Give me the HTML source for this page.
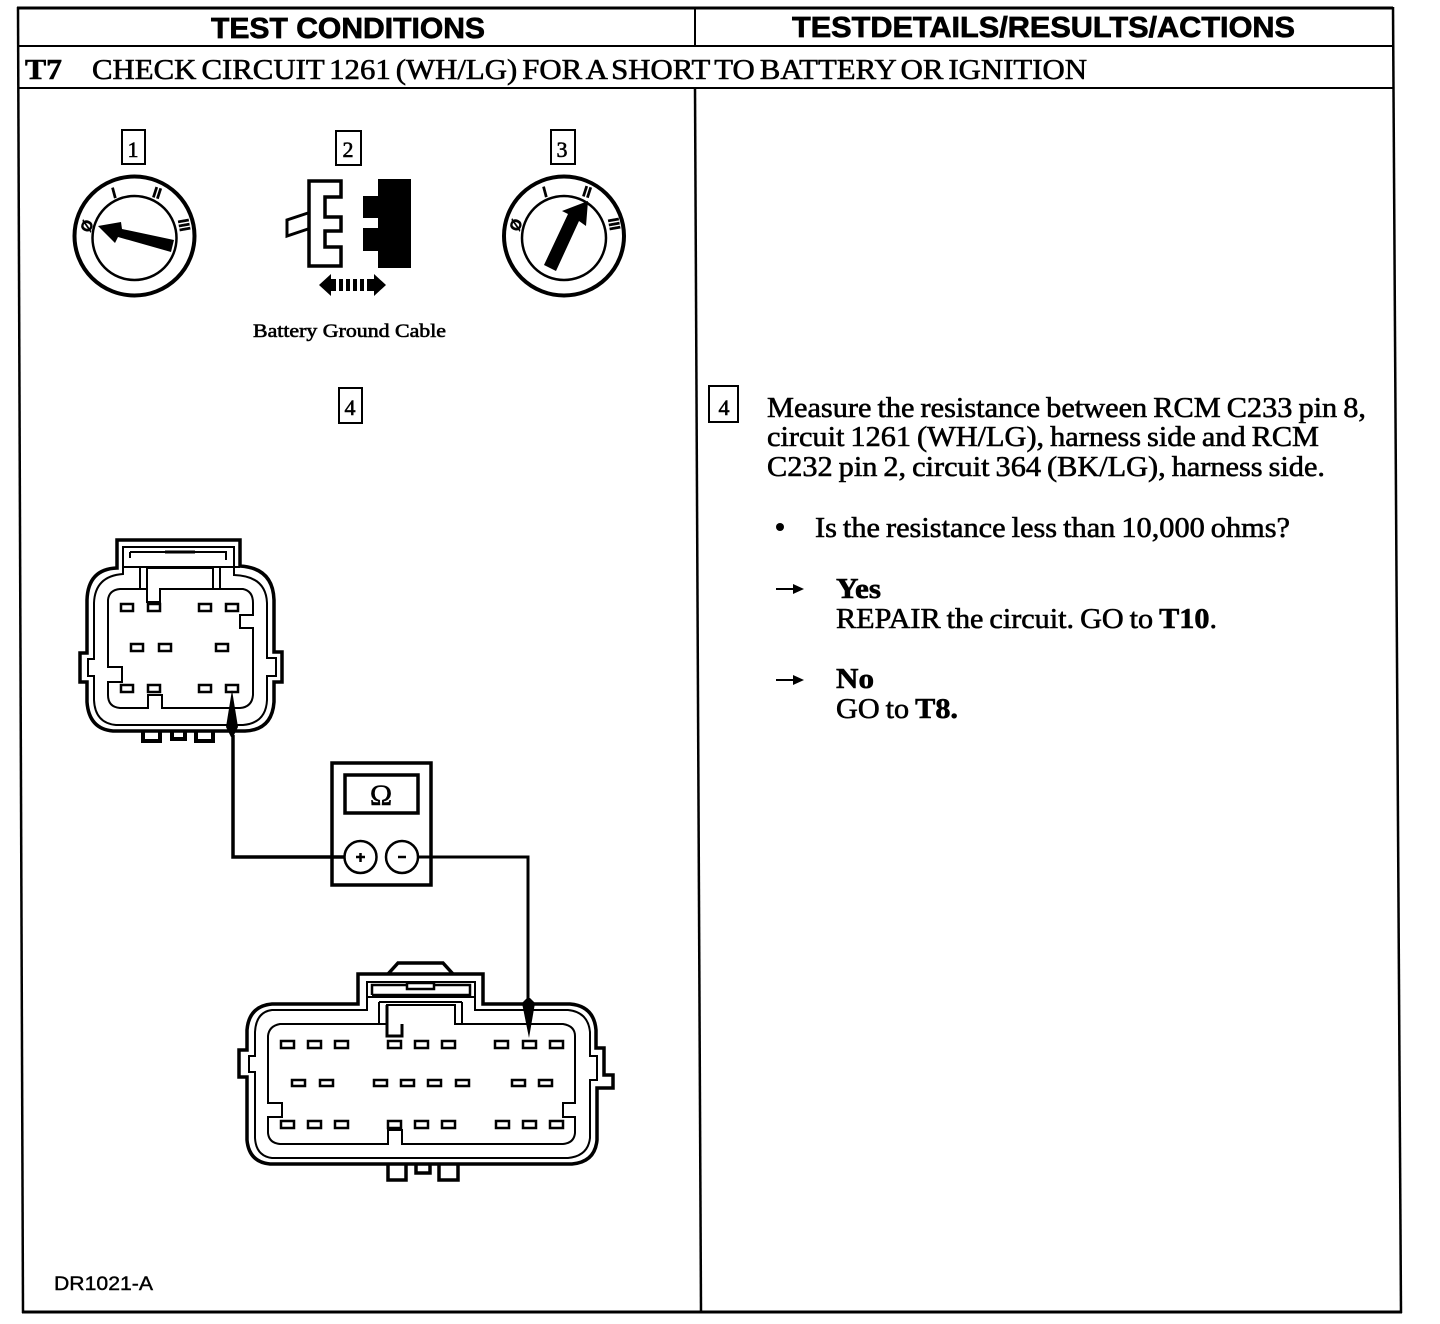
<!DOCTYPE html>
<html><head><meta charset="utf-8"><style>
html,body{margin:0;padding:0;background:#fff}
svg{display:block}
.s{font-family:"Liberation Serif",serif;fill:#000;stroke:#000;stroke-width:.6;word-spacing:-1.5px}
.h{font-family:"Liberation Sans",sans-serif;font-weight:bold;fill:#000;stroke:#000;stroke-width:.7}
.b{font-weight:bold}
.l{fill:none;stroke:#000}
.pin{fill:#fff;stroke:#000;stroke-width:2.500}
</style></head><body>
<svg width="1440" height="1324" viewBox="0 0 1440 1324" xmlns="http://www.w3.org/2000/svg">
<rect width="1440" height="1324" fill="#fff"/>
<!-- table -->
<g class="l" stroke-width="2">
<path d="M17 8H1393" stroke-width="3"/>
<path d="M18 7L23 1313" stroke-width="2.500"/>
<path d="M1393 7L1401 1313" stroke-width="2.500"/>
<path d="M22 1312H1402" stroke-width="3"/>
<path d="M18 46H1393"/>
<path d="M18 88H1393"/>
<path d="M695 8V46"/>
<path d="M695 88L701 1312" stroke-width="2.500"/>
</g>
<text class="h" x="211" y="38" font-size="29" textLength="274" lengthAdjust="spacingAndGlyphs">TEST CONDITIONS</text>
<text class="h" x="792" y="37" font-size="29" textLength="503" lengthAdjust="spacingAndGlyphs">TESTDETAILS/RESULTS/ACTIONS</text>
<text class="s b" x="25" y="79" font-size="29" textLength="37" lengthAdjust="spacingAndGlyphs">T7</text>
<text class="s" style="word-spacing:-2.500px" x="92" y="79" font-size="29" textLength="995" lengthAdjust="spacingAndGlyphs">CHECK CIRCUIT 1261 (WH/LG) FOR A SHORT TO BATTERY OR IGNITION</text>

<!-- number boxes -->
<g class="l" stroke-width="2">
<rect x="122" y="130" width="23" height="34"/>
<rect x="336" y="131" width="25" height="34"/>
<rect x="551" y="130" width="24" height="34"/>
<rect x="339" y="388" width="23" height="35"/>
<rect x="709" y="386" width="29" height="36"/>
</g>
<g class="s" font-size="22" text-anchor="middle">
<text x="133" y="157">1</text><text x="348" y="157">2</text><text x="562" y="157">3</text><text x="350" y="415">4</text><text x="724" y="415">4</text>
</g>

<!-- dial 1 -->
<g class="l">
<ellipse cx="134.500" cy="236" rx="60" ry="59.500" stroke-width="4"/>
<circle cx="134.500" cy="238" r="42" stroke-width="2.500"/>
</g>
<path d="M98 226L121 222L122 229L174 240L171 252L118 237L115 243Z" fill="#000"/>
<!-- dial 3 -->
<g class="l">
<ellipse cx="564" cy="236" rx="60" ry="59.500" stroke-width="4"/>
<circle cx="564" cy="238" r="42" stroke-width="2.500"/>
</g>
<path d="M588 201L586 226L579 221L556 271L544 265L568 214L562 211Z" fill="#000"/>
<!-- dial marks -->
<g font-family="Liberation Sans, sans-serif" font-weight="bold" font-size="15" text-anchor="middle" fill="#000" stroke="#000" stroke-width=".6">
<text transform="translate(87,226) rotate(-70)" x="0" y="5">Ø</text>
<text transform="translate(114,193) rotate(-15)" x="0" y="5">I</text>
<text transform="translate(157,193) rotate(18)" x="0" y="5">II</text>
<text transform="translate(184,225) rotate(80)" x="0" y="5">III</text>
<text transform="translate(516,225) rotate(-70)" x="0" y="5">Ø</text>
<text transform="translate(545,192) rotate(-15)" x="0" y="5">I</text>
<text transform="translate(587,192) rotate(18)" x="0" y="5">II</text>
<text transform="translate(614,224) rotate(80)" x="0" y="5">III</text>
</g>

<!-- battery connector -->
<path class="l" stroke-width="3.500" d="M309 181H341V197H325V217H341V231H325V247H341V266H309Z"/>
<path class="l" stroke-width="3" d="M308 213L287 220V236L308 229"/>
<path d="M378 179H411V268H378V251H363V228H378V218H363V196H378Z" fill="#000"/>
<path d="M319 285L331 274V296Z M386 285L374 274V296Z M331 279h5v12h-5z M339 279h4v12h-4z M346 279h4v12h-4z M353 279h4v12h-4z M360 279h4v12h-4z M367 279h7v12h-7z" fill="#000"/>
<text class="s" style="word-spacing:0" x="253" y="337" font-size="19" textLength="193" lengthAdjust="spacingAndGlyphs">Battery Ground Cable</text>

<!-- top-left connector -->
<g class="l">
<path stroke-width="3.500" d="M117 568V540H240V566Q273 568 274 600V652H282V682H274V702Q272 730 245 731H113Q89 729 87 702V682H80V653H87V600Q88 569 117 568Z"/>
<path stroke-width="2" d="M123 574V547H234V575Q266 576 267 603V658H276V676H267V700Q266 723 243 725H116Q95 723 94 700V676H88V659H94V603Q95 576 123 574Z"/>
<path stroke-width="2" d="M120 589H147V602H160V589H243Q253 591 253 603V615H240V628H253V695Q252 707 240 708H162V695H148V708H120Q108 707 108 695V682H122V667H108V600Q109 590 120 589Z"/>
<path stroke-width="2" d="M147 589V568H213V589M122 567H240"/>
<path stroke-width="2" d="M130 552H226V560M130 552V558"/>
<path stroke-width="3" d="M165 552H195"/>
<path stroke-width="2" d="M140 568V589M220 568V589"/>
<path stroke-width="4" d="M143 731V741H160V731M172 731V739H185V731M196 731V741H213V731"/>
</g>
<g class="pin">
<rect x="121" y="604" width="12" height="7"/><rect x="148" y="604" width="12" height="7"/><rect x="199" y="604" width="12" height="7"/><rect x="226" y="604" width="12" height="7"/>
<rect x="131" y="644" width="12" height="7"/><rect x="159" y="644" width="12" height="7"/><rect x="216" y="644" width="12" height="7"/>
<rect x="121" y="685" width="12" height="7"/><rect x="148" y="685" width="12" height="7"/><rect x="199" y="685" width="12" height="7"/><rect x="226" y="685" width="12" height="7"/>
</g>

<!-- meter -->
<g class="l">
<rect x="332" y="763" width="99" height="122" stroke-width="3.500"/>
<rect x="345" y="775" width="73" height="38" stroke-width="3.500"/>
</g>
<text x="381" y="805" font-family="Liberation Serif, serif" font-size="30" text-anchor="middle" stroke="#000" stroke-width=".5">Ω</text>
<g fill="#fff" stroke="#000" stroke-width="2.500">
<circle cx="360.500" cy="857" r="16"/>
<circle cx="402" cy="857" r="16"/>
</g>
<path d="M356 857h9M360.500 853v9M398 857h8" stroke="#000" stroke-width="2.500" fill="none"/>

<!-- wires -->
<path class="l" stroke-width="3.500" d="M233 735V857H344"/>
<path class="l" stroke-width="3" d="M418 857H528V1000"/>
<path d="M232 690L238 727L233 737H231L226 727Z" fill="#000"/>

<!-- bottom connector -->
<g class="l">
<path stroke-width="3.500" d="M388 974L398 963H443L453 974"/>
<path stroke-width="3.500" d="M358 1004V974H483V1004H570Q594 1006 596 1030V1048H604V1075H613V1088H597V1140Q595 1162 572 1164H270Q249 1162 247 1140V1077H239V1050H247V1030Q249 1006 272 1004Z"/>
<path stroke-width="2" d="M367 1010V982H475V1010H568Q588 1012 590 1032V1056H597V1080H590V1138Q588 1156 568 1158H272Q256 1156 255 1138V1072H249V1056H255V1032Q256 1012 272 1010Z"/>
<path stroke-width="2" d="M280 1024H387V1005H455V1024H563Q575 1026 575 1036V1103H563V1117H575V1133Q574 1143 563 1144H402V1130H388V1144H280Q269 1143 268 1133V1117H282V1103H268V1036Q269 1026 280 1024Z"/>
<path stroke-width="3" d="M387 1005V1036H402V1024"/>
<path stroke-width="2" d="M367 997H475M379 1002V1024M462 1002V1024M379 1002H462"/>
<path stroke-width="2.500" d="M372 995V985H407M434 985H470V995H372"/>
<rect x="407" y="983" width="27" height="6" stroke-width="2.500"/>
<path stroke-width="3.500" d="M388 1164V1180H406V1164M416 1164V1173H430V1164M439 1164V1180H458V1164"/>
</g>
<g class="pin">
<rect x="281" y="1041" width="13" height="7"/><rect x="308" y="1041" width="13" height="7"/><rect x="335" y="1041" width="13" height="7"/><rect x="388" y="1041" width="13" height="7"/><rect x="415" y="1041" width="13" height="7"/><rect x="442" y="1041" width="13" height="7"/><rect x="495" y="1041" width="13" height="7"/><rect x="523" y="1041" width="13" height="7"/><rect x="550" y="1041" width="13" height="7"/>
<rect x="292" y="1080" width="13" height="6"/><rect x="320" y="1080" width="13" height="6"/><rect x="374" y="1080" width="13" height="6"/><rect x="401" y="1080" width="13" height="6"/><rect x="428" y="1080" width="13" height="6"/><rect x="456" y="1080" width="13" height="6"/><rect x="512" y="1080" width="13" height="6"/><rect x="539" y="1080" width="13" height="6"/>
<rect x="281" y="1121" width="13" height="7"/><rect x="308" y="1121" width="13" height="7"/><rect x="335" y="1121" width="13" height="7"/><rect x="388" y="1121" width="13" height="7"/><rect x="415" y="1121" width="13" height="7"/><rect x="442" y="1121" width="13" height="7"/><rect x="496" y="1121" width="13" height="7"/><rect x="523" y="1121" width="13" height="7"/><rect x="550" y="1121" width="13" height="7"/>
</g>
<path d="M529 1038L522 1003L527 998H530L535 1003Z" fill="#000"/>

<text class="h" style="font-weight:normal;stroke-width:.4" x="54" y="1290" font-size="19" textLength="99" lengthAdjust="spacingAndGlyphs">DR1021-A</text>

<!-- right column text -->
<g class="s" font-size="29">
<text x="767" y="417" textLength="599" lengthAdjust="spacingAndGlyphs">Measure the resistance between RCM C233 pin 8,</text>
<text x="767" y="446" textLength="552" lengthAdjust="spacingAndGlyphs">circuit 1261 (WH/LG), harness side and RCM</text>
<text x="767" y="476" textLength="558" lengthAdjust="spacingAndGlyphs">C232 pin 2, circuit 364 (BK/LG), harness side.</text>
<text x="815" y="537" textLength="475" lengthAdjust="spacingAndGlyphs">Is the resistance less than 10,000 ohms?</text>
<text class="b" x="836" y="598" textLength="45" lengthAdjust="spacingAndGlyphs">Yes</text>
<text x="836" y="628" textLength="381" lengthAdjust="spacingAndGlyphs">REPAIR the circuit. GO to <tspan class="b">T10</tspan>.</text>
<text class="b" x="836" y="688" textLength="38" lengthAdjust="spacingAndGlyphs">No</text>
<text x="836" y="718" textLength="122" lengthAdjust="spacingAndGlyphs">GO to <tspan class="b">T8.</tspan></text>
</g>
<circle cx="780" cy="527" r="4" fill="#000"/>
<path d="M776 589H796" stroke="#000" stroke-width="2"/><path d="M804 589L793 584V594Z" fill="#000"/>
<path d="M776 680H796" stroke="#000" stroke-width="2"/><path d="M804 680L793 675V685Z" fill="#000"/>
</svg>
</body></html>
